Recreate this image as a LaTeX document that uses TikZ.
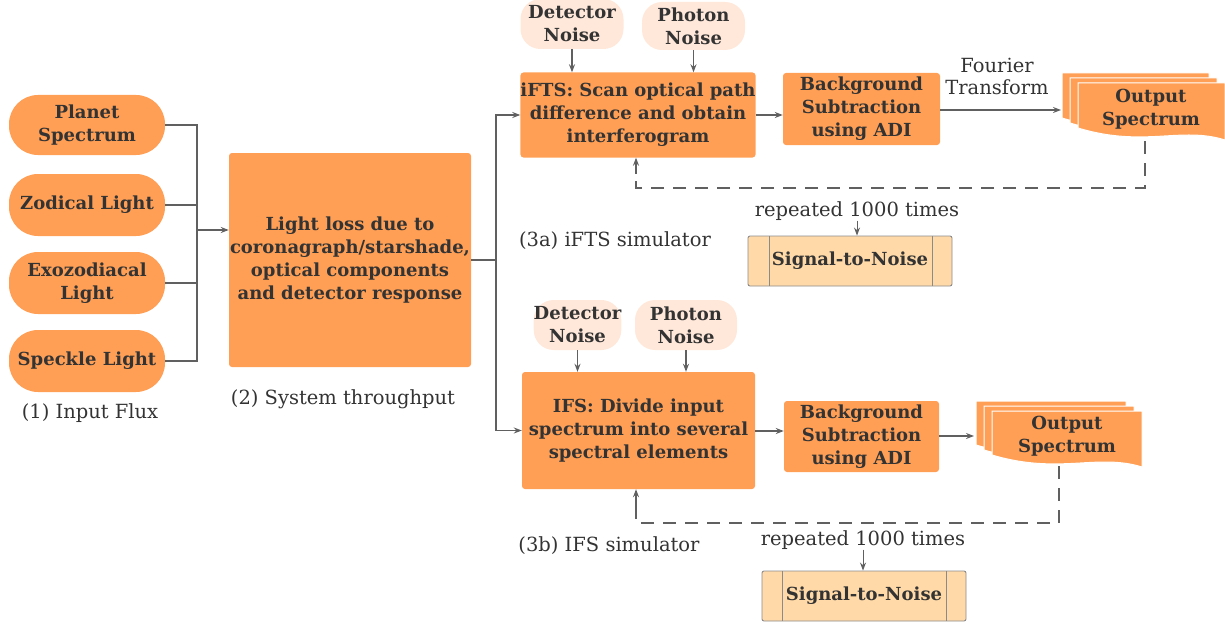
\documentclass[tikz,border=0pt]{standalone}
\usepackage{fontspec}
\setmainfont{DejaVu Serif}
\usetikzlibrary{arrows.meta}
\definecolor{org}{HTML}{FF9F55}
\definecolor{pale}{HTML}{FFE8DA}
\definecolor{snrf}{HTML}{FFDAA8}
\definecolor{txt}{HTML}{333333}
\definecolor{ln}{HTML}{606060}
\definecolor{bl}{HTML}{8A8A8A}
\newcommand\mdoc[4]{%
 \foreach \d in {16,8,0}{%
  \draw[fill=org, draw=white, line width=1pt] ({#1-\d},{#2-\d*0.625}) -- ({#1+#3-\d},{#2-\d*0.625}) -- ({#1+#3-\d},{#2+#4-\d*0.625}) .. controls ({#1+0.7*#3-\d},{#2+#4-14-\d*0.625}) and ({#1+0.45*#3-\d},{#2+#4+8-\d*0.625}) .. ({#1-\d},{#2+#4-12-\d*0.625}) -- cycle;
 }}
\tikzset{
 bfont/.style={font=\bfseries\fontsize{18}{23}\selectfont},
 box/.style={fill=org, text=txt, bfont, align=center, inner sep=0pt, rounded corners=3pt},
 pill/.style={box, minimum width=156pt, rounded corners=29pt},
 noise/.style={fill=pale, text=txt, bfont, align=center, inner sep=0pt, rounded corners=20pt},
 btxt/.style={text=txt, bfont, align=center, inner sep=0pt},
 lbl/.style={text=txt, font=\fontsize{19.5}{22}\selectfont, align=center, inner sep=0pt},
 snr/.style={fill=snrf, draw=bl, line width=0.9pt, text=txt, bfont, minimum width=204pt, minimum height=50pt, inner sep=0pt, rounded corners=2pt},
 con/.style={draw=ln, line width=1.3pt},
 arr/.style={con, -{Stealth[length=8pt,width=6pt]}},
 dsh/.style={con, dash pattern=on 13pt off 9pt},
}
\begin{document}
\begin{tikzpicture}[x=1pt,y=-1pt]
\useasboundingbox (0,0) rectangle (1225,623);
% input flux
\node[pill, minimum height=60pt] (planet) at (87,125) {Planet\\Spectrum};
\node[pill, minimum height=62pt] (zod) at (87,205) {Zodical Light};
\node[pill, minimum height=62pt] (exo) at (87,283) {Exozodiacal\\Light};
\node[pill, minimum height=62pt] (speck) at (87,361) {Speckle Light};
\node[lbl] (l1) at (90,413) {(1) Input Flux};
% system
\node[box, minimum width=242pt, minimum height=214pt] (sys) at (350,260) {Light loss due to\\coronagraph/starshade,\\optical components\\and detector response};
\node[lbl] (l2) at (343,399) {(2) System throughput};
\coordinate (busin) at (197,230);
\coordinate (busout) at (496,260);
\draw[con] (planet.east) -| (busin);
\draw[con] (speck.east) -| (busin);
\draw[con] (zod.east) -- (zod.east -| busin);
\draw[con] (exo.east) -- (exo.east -| busin);
\draw[arr] (busin) -- (sys.west |- busin);
\draw[con] (sys.east |- busout) -- (busout);
% iFTS
\node[box, minimum width=234pt, minimum height=85pt] (ifts) at (638,115) {iFTS: Scan optical path\\difference and obtain\\interferogram};
\node[noise, minimum width=103pt, minimum height=50pt] (dn1) at (572,24) {Detector\\Noise};
\node[noise, minimum width=103pt, minimum height=48pt] (pn1) at (693.5,26) {Photon\\Noise};
\node[box, minimum width=157pt, minimum height=72pt] (bs1) at (861.5,109) {Background\\Subtraction\\using ADI};
\mdoc{1078}{83}{147}{57}
\node[btxt] (out1) at (1151,109) {Output\\Spectrum};
\node[lbl] (ft) at (997,76) {Fourier\\Transform};
\node[lbl] (rep1) at (857,211) {repeated 1000 times};
\node[snr] (snr1) at (850,261) {Signal-to-Noise};
\draw[draw=bl, line width=0.9pt] (769,236) -- (769,286) (932,236) -- (932,286);
\node[lbl] (l3a) at (615,241) {(3a) iFTS simulator};
\draw[arr] (busout) |- (ifts.west);
\draw[arr] (dn1.south) -- (dn1.south |- ifts.north);
\draw[arr] (pn1.south) -- (pn1.south |- ifts.north);
\draw[arr] (ifts.east) -- (ifts.east -| bs1.west);
\coordinate (o1in) at (1061,110);
\draw[arr] (bs1.east |- o1in) -- (o1in);
\coordinate (fbs1) at (1145,141);
\coordinate (fb1) at (1145,188);
\coordinate (fbe1) at (636,174);
\draw[dsh] (fbs1) -- (fb1) -| (fbe1);
\draw[arr] (fbe1) -- (fbe1 |- ifts.south);
\draw[arr, line width=1pt] (rep1.south) -- (rep1.south |- snr1.north);
% IFS
\node[box, minimum width=233pt, minimum height=117pt] (ifs) at (638.5,430.5) {IFS: Divide input\\spectrum into several\\spectral elements};
\node[noise, minimum width=85pt, minimum height=50pt] (dn2) at (577.5,325) {Detector\\Noise};
\node[noise, minimum width=102pt, minimum height=50pt] (pn2) at (686,325) {Photon\\Noise};
\node[box, minimum width=155pt, minimum height=71pt] (bs2) at (861.5,436.5) {Background\\Subtraction\\using ADI};
\mdoc{992}{411}{150}{56}
\node[btxt] (out2) at (1067,436) {Output\\Spectrum};
\node[lbl] (rep2) at (863,540) {repeated 1000 times};
\node[snr] (snr2) at (864,596) {Signal-to-Noise};
\draw[draw=bl, line width=0.9pt] (782,571) -- (782,621) (946,571) -- (946,621);
\node[lbl] (l3b) at (609,546) {(3b) IFS simulator};
\draw[arr] (busout) |- (ifs.west);
\draw[arr] (dn2.south) -- (dn2.south |- ifs.north);
\draw[arr] (pn2.south) -- (pn2.south |- ifs.north);
\draw[arr] (ifs.east |- 0,431) -- (bs2.west |- 0,431);
\coordinate (o2in) at (974,436);
\draw[arr] (bs2.east |- o2in) -- (o2in);
\coordinate (fbs2) at (1059,466);
\coordinate (fb2) at (1059,523);
\coordinate (fbe2) at (636,506);
\draw[dsh] (fbs2) -- (fb2) -| (fbe2);
\draw[arr] (fbe2) -- (fbe2 |- ifs.south);
\draw[arr, line width=1pt] (rep2.south) -- (rep2.south |- snr2.north);
\end{tikzpicture}
\end{document}
